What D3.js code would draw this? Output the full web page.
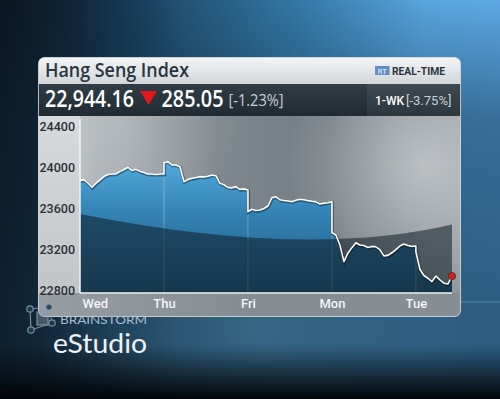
<!DOCTYPE html>
<html lang="en">
<head>
<meta charset="utf-8">
<title>Hang Seng Index</title>
<script src="https://cdn.jsdelivr.net/npm/d3@7"></script>
<style>
  html, body { margin: 0; padding: 0; background: #0f2233; overflow: hidden; }
  svg { display: block; }
</style>
</head>
<body>
<div id="chart"></div>
<script>
// index levels, evenly spaced inside each trading day
var dayLabels = ["Wed", "Thu", "Fri", "Mon", "Tue"];
var wedValues = [23870, 23880, 23847, 23806, 23845, 23878, 23910, 23930, 23934, 23935, 23960,
                 23978, 24000, 23968, 23980, 23960, 23948, 23934, 23935, 23930, 23934, 23934];
var thuValues = [24044, 24054, 24022, 24022, 24005, 23860, 23880, 23893, 23900, 23909, 23905,
                 23912, 23925, 23918, 23844, 23830, 23805, 23800, 23812, 23786, 23790, 23780];
var friValues = [23569, 23592, 23580, 23585, 23600, 23624, 23705, 23714, 23684, 23678, 23672,
                 23666, 23680, 23689, 23684, 23676, 23670, 23664, 23644, 23652, 23656, 23666];
var monValues = [23365, 23343, 23246, 23084, 23166, 23220, 23268, 23246, 23240, 23222, 23232,
                 23228, 23200, 23140, 23145, 23170, 23200, 23236, 23256, 23240, 23232, 23236];
var tueValues = [23180, 23010, 22950, 22923, 22890, 22945, 22907, 22875, 22868, 22944];
var lastDayPortion = 0.43;   // Tue session only partly done
var yTicks = [22800, 23200, 23600, 24000, 24400];

var lastPrice = "22,944.16";
var change = "285.05";
var changePct = "[-1.23%]";
var weekLabel = "1-WK";
var weekPct = "[-3.75%]";

var W = 500, H = 399;
var plot = {left: 80, right: 452, top: 117, bottom: 293};

var days = [wedValues, thuValues, friValues, monValues, tueValues];
var series = [];
days.forEach(function(vals, i) {
  var span = i === days.length - 1 ? lastDayPortion : 1;
  vals.forEach(function(v, j) {
    series.push({t: i + span * j / (vals.length - 1), v: v});
  });
});

var x = d3.scaleLinear().domain([0, days.length - 1 + lastDayPortion]).range([plot.left, plot.right]);
var y = d3.scaleLinear().domain([22780, 24400]).range([plot.bottom, 126]);

var svg = d3.select("#chart").append("svg")
  .attr("width", W).attr("height", H);
var defs = svg.append("defs");

function linGrad(id, x1, y1, x2, y2, stops, abs) {
  var g = defs.append("linearGradient").attr("id", id)
    .attr("x1", x1).attr("y1", y1).attr("x2", x2).attr("y2", y2);
  if (abs) g.attr("gradientUnits", "userSpaceOnUse");
  stops.forEach(function(s) {
    g.append("stop").attr("offset", s[0]).attr("stop-color", s[1])
      .attr("stop-opacity", s[2] === undefined ? 1 : s[2]);
  });
  return g;
}
function radGrad(id, cx, cy, r, stops) {
  var g = defs.append("radialGradient").attr("id", id).attr("gradientUnits", "userSpaceOnUse")
    .attr("cx", cx).attr("cy", cy).attr("r", r);
  stops.forEach(function(s) {
    g.append("stop").attr("offset", s[0]).attr("stop-color", s[1]).attr("stop-opacity", s[2]);
  });
  return g;
}

// page background
linGrad("bgH", 0, 0, 1, 0, [[0, "#0c1a28"], [0.3, "#1d4866"], [0.6, "#3479a7"], [0.85, "#57a5df"], [1, "#5ba9e6"]]);
linGrad("bgV", 0, 0, 0, 1, [[0, "#14324a", 0], [0.3, "#14324a", 0.5], [0.8, "#1a3c55", 0.7], [1, "#1a3c55", 0.7]]);
linGrad("bgBottom", 0, 345, 0, 399, [[0, "#02060a", 0], [1, "#02060a", 1]], true);
linGrad("bgLeft", 0, 0, 180, 0, [[0, "#08131e", 0.55], [1, "#08131e", 0]], true);
radGrad("bgGlow", 260, 330, 220, [[0, "#4a7c9a", 0.55], [1, "#4a7c9a", 0]]);

svg.append("rect").attr("width", W).attr("height", H).attr("fill", "url(#bgH)");
svg.append("rect").attr("width", W).attr("height", H).attr("fill", "url(#bgV)");
svg.append("rect").attr("width", W).attr("height", H).attr("fill", "url(#bgLeft)");
svg.append("ellipse").attr("cx", 260).attr("cy", 330).attr("rx", 260).attr("ry", 70).attr("fill", "url(#bgGlow)");
svg.append("rect").attr("width", W).attr("height", H).attr("fill", "url(#bgBottom)");
svg.append("line").attr("x1", 461).attr("x2", 500).attr("y1", 302).attr("y2", 302)
  .attr("stroke", "#6fa6cc").attr("stroke-opacity", 0.6);

// panel
var panel = {x: 38.5, y: 57.5, w: 422, h: 259};
defs.append("clipPath").attr("id", "panelClip").append("rect")
  .attr("x", panel.x).attr("y", panel.y).attr("width", panel.w).attr("height", panel.h).attr("rx", 6);
defs.append("clipPath").attr("id", "plotClip").append("rect")
  .attr("x", plot.left).attr("y", plot.top).attr("width", plot.right - plot.left).attr("height", plot.bottom - plot.top);

linGrad("titleG", 0, 0, 0, 1, [[0, "#f4f5f6"], [1, "#d2d6d9"]]);
linGrad("priceG", 0, 0, 0, 1, [[0, "#323e47"], [1, "#1f2a32"]]);
linGrad("weekG", 0, 0, 0, 1, [[0, "#3e4a53"], [1, "#2b363e"]]);
linGrad("chartG", 40, 0, 460, 0, [[0, "#c9cdd0"], [0.14, "#a9afb3"], [0.42, "#7f888e"], [0.7, "#737c83"], [1, "#8f969b"]], true);
linGrad("colG", 0, 0, 0, 1, [[0, "#d8dbdd"], [1, "#c1c5c8"]]);
linGrad("stripG", 40, 0, 460, 0, [[0, "#969da3"], [0.5, "#858d93"], [1, "#868e94"]], true);
linGrad("areaG", 0, 150, 0, 293, [[0, "#5ab2e4"], [0.45, "#3282b3"], [1, "#215b80"]], true);
radGrad("hiG", 425, 165, 140, [[0, "#e8eaec", 0.55], [1, "#e8eaec", 0]]);
radGrad("hiG2", 120, 125, 120, [[0, "#e8eaec", 0.25], [1, "#e8eaec", 0]]);

var pg = svg.append("g").attr("clip-path", "url(#panelClip)");
pg.append("rect").attr("x", 38).attr("y", 57).attr("width", 424).attr("height", 27).attr("fill", "url(#titleG)");
pg.append("rect").attr("x", 38).attr("y", 84).attr("width", 424).attr("height", 32).attr("fill", "url(#priceG)");
pg.append("rect").attr("x", 367).attr("y", 84).attr("width", 95).attr("height", 32).attr("fill", "url(#weekG)");
pg.append("rect").attr("x", 38).attr("y", 116).attr("width", 424).attr("height", 202).attr("fill", "url(#chartG)");
pg.append("rect").attr("x", 38).attr("y", 116).attr("width", 424).attr("height", 202).attr("fill", "url(#hiG)");
pg.append("rect").attr("x", 38).attr("y", 116).attr("width", 424).attr("height", 202).attr("fill", "url(#hiG2)");
pg.append("rect").attr("x", 38).attr("y", 116).attr("width", plot.left - 38).attr("height", plot.bottom - 116).attr("fill", "url(#colG)");
pg.append("rect").attr("x", 38).attr("y", plot.bottom).attr("width", 424).attr("height", 25).attr("fill", "url(#stripG)");

// area + line
var area = d3.area().x(function(d) { return x(d.t); }).y0(plot.bottom).y1(function(d) { return y(d.v); });
var line = d3.line().x(function(d) { return x(d.t); }).y(function(d) { return y(d.v); });

var pl = pg.append("g").attr("clip-path", "url(#plotClip)");
pl.append("path").datum(series).attr("d", area).attr("fill", "url(#areaG)");

// day separators under the line
d3.range(1, days.length).forEach(function(i) {
  var prev = days[i - 1][days[i - 1].length - 1], next = days[i][0];
  pl.append("line").attr("x1", x(i)).attr("x2", x(i))
    .attr("y1", y(Math.min(prev, next)) + 2).attr("y2", plot.bottom)
    .attr("stroke", "#ffffff").attr("stroke-opacity", 0.28).attr("stroke-width", 1);
});

// darker lower glass band
pl.append("path")
  .attr("d", "M38,205 Q300,264 462,222 L462,300 L38,300 Z")
  .attr("fill", "#0f1b24").attr("fill-opacity", 0.55);

pl.append("path").datum(series).attr("d", line)
  .attr("fill", "none").attr("stroke", "#000").attr("stroke-opacity", 0.35).attr("stroke-width", 3.2)
  .attr("transform", "translate(0.5,0.8)");
pl.append("path").datum(series).attr("d", line)
  .attr("fill", "none").attr("stroke", "#ffffff").attr("stroke-width", 1.6).attr("stroke-linejoin", "round");

var last = series[series.length - 1];
pg.append("circle").attr("cx", x(last.t)).attr("cy", y(last.v)).attr("r", 3.6)
  .attr("fill", "#c4262b").attr("stroke", "#7a1518").attr("stroke-width", 0.8);

// axes lines
pg.append("line").attr("x1", plot.left).attr("x2", plot.left).attr("y1", 119).attr("y2", plot.bottom)
  .attr("stroke", "#f2f4f5").attr("stroke-width", 1.5);
pg.append("line").attr("x1", plot.left).attr("x2", plot.right).attr("y1", plot.bottom).attr("y2", plot.bottom)
  .attr("stroke", "#eef1f3").attr("stroke-width", 1.5);

// y axis labels
var yAxis = d3.axisLeft(y).tickValues(yTicks).tickSize(0).tickPadding(4).tickFormat(d3.format("d"));
var ya = pg.append("g").attr("transform", "translate(" + (plot.left - 1) + ",0)").call(yAxis);
ya.select(".domain").remove();
ya.selectAll("text").attr("font-family", "Roboto, sans-serif").attr("font-weight", 500)
  .attr("font-size", 12.5).attr("fill", "#2a3037");

// x axis labels
var xAxis = d3.axisBottom(x).tickValues(d3.range(days.length)).tickSize(0).tickPadding(6)
  .tickFormat(function(d) { return dayLabels[d]; });
var xa = pg.append("g").attr("transform", "translate(0," + plot.bottom + ")").call(xAxis);
xa.select(".domain").remove();
xa.selectAll("text").attr("font-family", "Roboto, sans-serif").attr("font-weight", 500)
  .attr("font-size", 13).attr("fill", "#f3f5f6")
  .attr("text-anchor", function(d) { return d === 0 ? "start" : "middle"; })
  .attr("x", function(d) { return d === 0 ? 2 : 0; });

// header texts
pg.append("text").attr("x", 45).attr("y", 76.5).text("Hang Seng Index")
  .attr("font-family", "'Open Sans', sans-serif").attr("font-weight", 600).attr("font-size", 19)
  .attr("fill", "#2a3540").attr("textLength", 144).attr("lengthAdjust", "spacingAndGlyphs");

pg.append("rect").attr("x", 375).attr("y", 66).attr("width", 14.5).attr("height", 9).attr("fill", "#5d8fc6");
pg.append("text").attr("x", 382.2).attr("y", 73.5).attr("text-anchor", "middle").text("RT")
  .attr("font-family", "Roboto, sans-serif").attr("font-size", 7.5).attr("font-weight", 500).attr("fill", "#d8e6f3");
pg.append("text").attr("x", 392).attr("y", 74.5).text("REAL-TIME")
  .attr("font-family", "Roboto, sans-serif").attr("font-weight", 700).attr("font-size", 10)
  .attr("fill", "#2b343c").attr("textLength", 53).attr("lengthAdjust", "spacingAndGlyphs");

pg.append("text").attr("x", 45).attr("y", 106.5).text(lastPrice)
  .attr("font-family", "'Open Sans', sans-serif").attr("font-weight", 600).attr("font-size", 22.5)
  .attr("fill", "#ffffff").attr("textLength", 89).attr("lengthAdjust", "spacingAndGlyphs");
pg.append("path").attr("d", "M140,91 L157,91 L148.5,105 Z").attr("fill", "#e3161c");
pg.append("text").attr("x", 161.5).attr("y", 106.5).text(change)
  .attr("font-family", "'Open Sans', sans-serif").attr("font-weight", 600).attr("font-size", 22.5)
  .attr("fill", "#ffffff").attr("textLength", 62).attr("lengthAdjust", "spacingAndGlyphs");
pg.append("text").attr("x", 228.5).attr("y", 106).text(changePct)
  .attr("font-family", "'Open Sans', sans-serif").attr("font-weight", 400).attr("font-size", 17)
  .attr("fill", "#c9d0d5").attr("textLength", 55).attr("lengthAdjust", "spacingAndGlyphs");

pg.append("text").attr("x", 375).attr("y", 104.5).text(weekLabel)
  .attr("font-family", "Roboto, sans-serif").attr("font-weight", 500).attr("font-size", 12)
  .attr("fill", "#ffffff");
pg.append("text").attr("x", 406).attr("y", 104.5).text(weekPct)
  .attr("font-family", "Roboto, sans-serif").attr("font-weight", 400).attr("font-size", 13)
  .attr("fill", "#c9d0d5");

// panel border
svg.append("rect").attr("x", panel.x).attr("y", panel.y).attr("width", panel.w).attr("height", panel.h)
  .attr("rx", 6).attr("fill", "none").attr("stroke", "#d9e0e5").attr("stroke-opacity", 0.8);

// logo
var logo = svg.append("g").attr("stroke", "#8aa1b2").attr("stroke-width", 1.2).attr("fill", "none").attr("opacity", 0.85);
var nodes = [[30, 309], [49, 307], [31, 330], [52, 323]];
[[0, 1], [0, 2], [2, 3], [1, 3]].forEach(function(e) {
  logo.append("line").attr("x1", nodes[e[0]][0]).attr("y1", nodes[e[0]][1])
    .attr("x2", nodes[e[1]][0]).attr("y2", nodes[e[1]][1]);
});
logo.append("rect").attr("x", 37).attr("y", 312).attr("width", 11).attr("height", 13)
  .attr("fill", "#8aa0b0").attr("fill-opacity", 0.5);
nodes.forEach(function(n) {
  logo.append("circle").attr("cx", n[0]).attr("cy", n[1]).attr("r", 3.2).attr("fill", "#1d3a50");
});
svg.append("text").attr("x", 60).attr("y", 324).text("BRAINSTORM")
  .attr("font-family", "Lato, sans-serif").attr("font-weight", 400).attr("font-size", 12)
  .attr("fill", "#a9bfce").attr("textLength", 87).attr("lengthAdjust", "spacingAndGlyphs");
svg.append("text").attr("x", 53).attr("y", 353).text("eStudio")
  .attr("font-family", "Lato, sans-serif").attr("font-weight", 400).attr("font-size", 26.5)
  .attr("fill", "#eef3f6").attr("textLength", 94).attr("lengthAdjust", "spacingAndGlyphs");
</script>
</body>
</html>
